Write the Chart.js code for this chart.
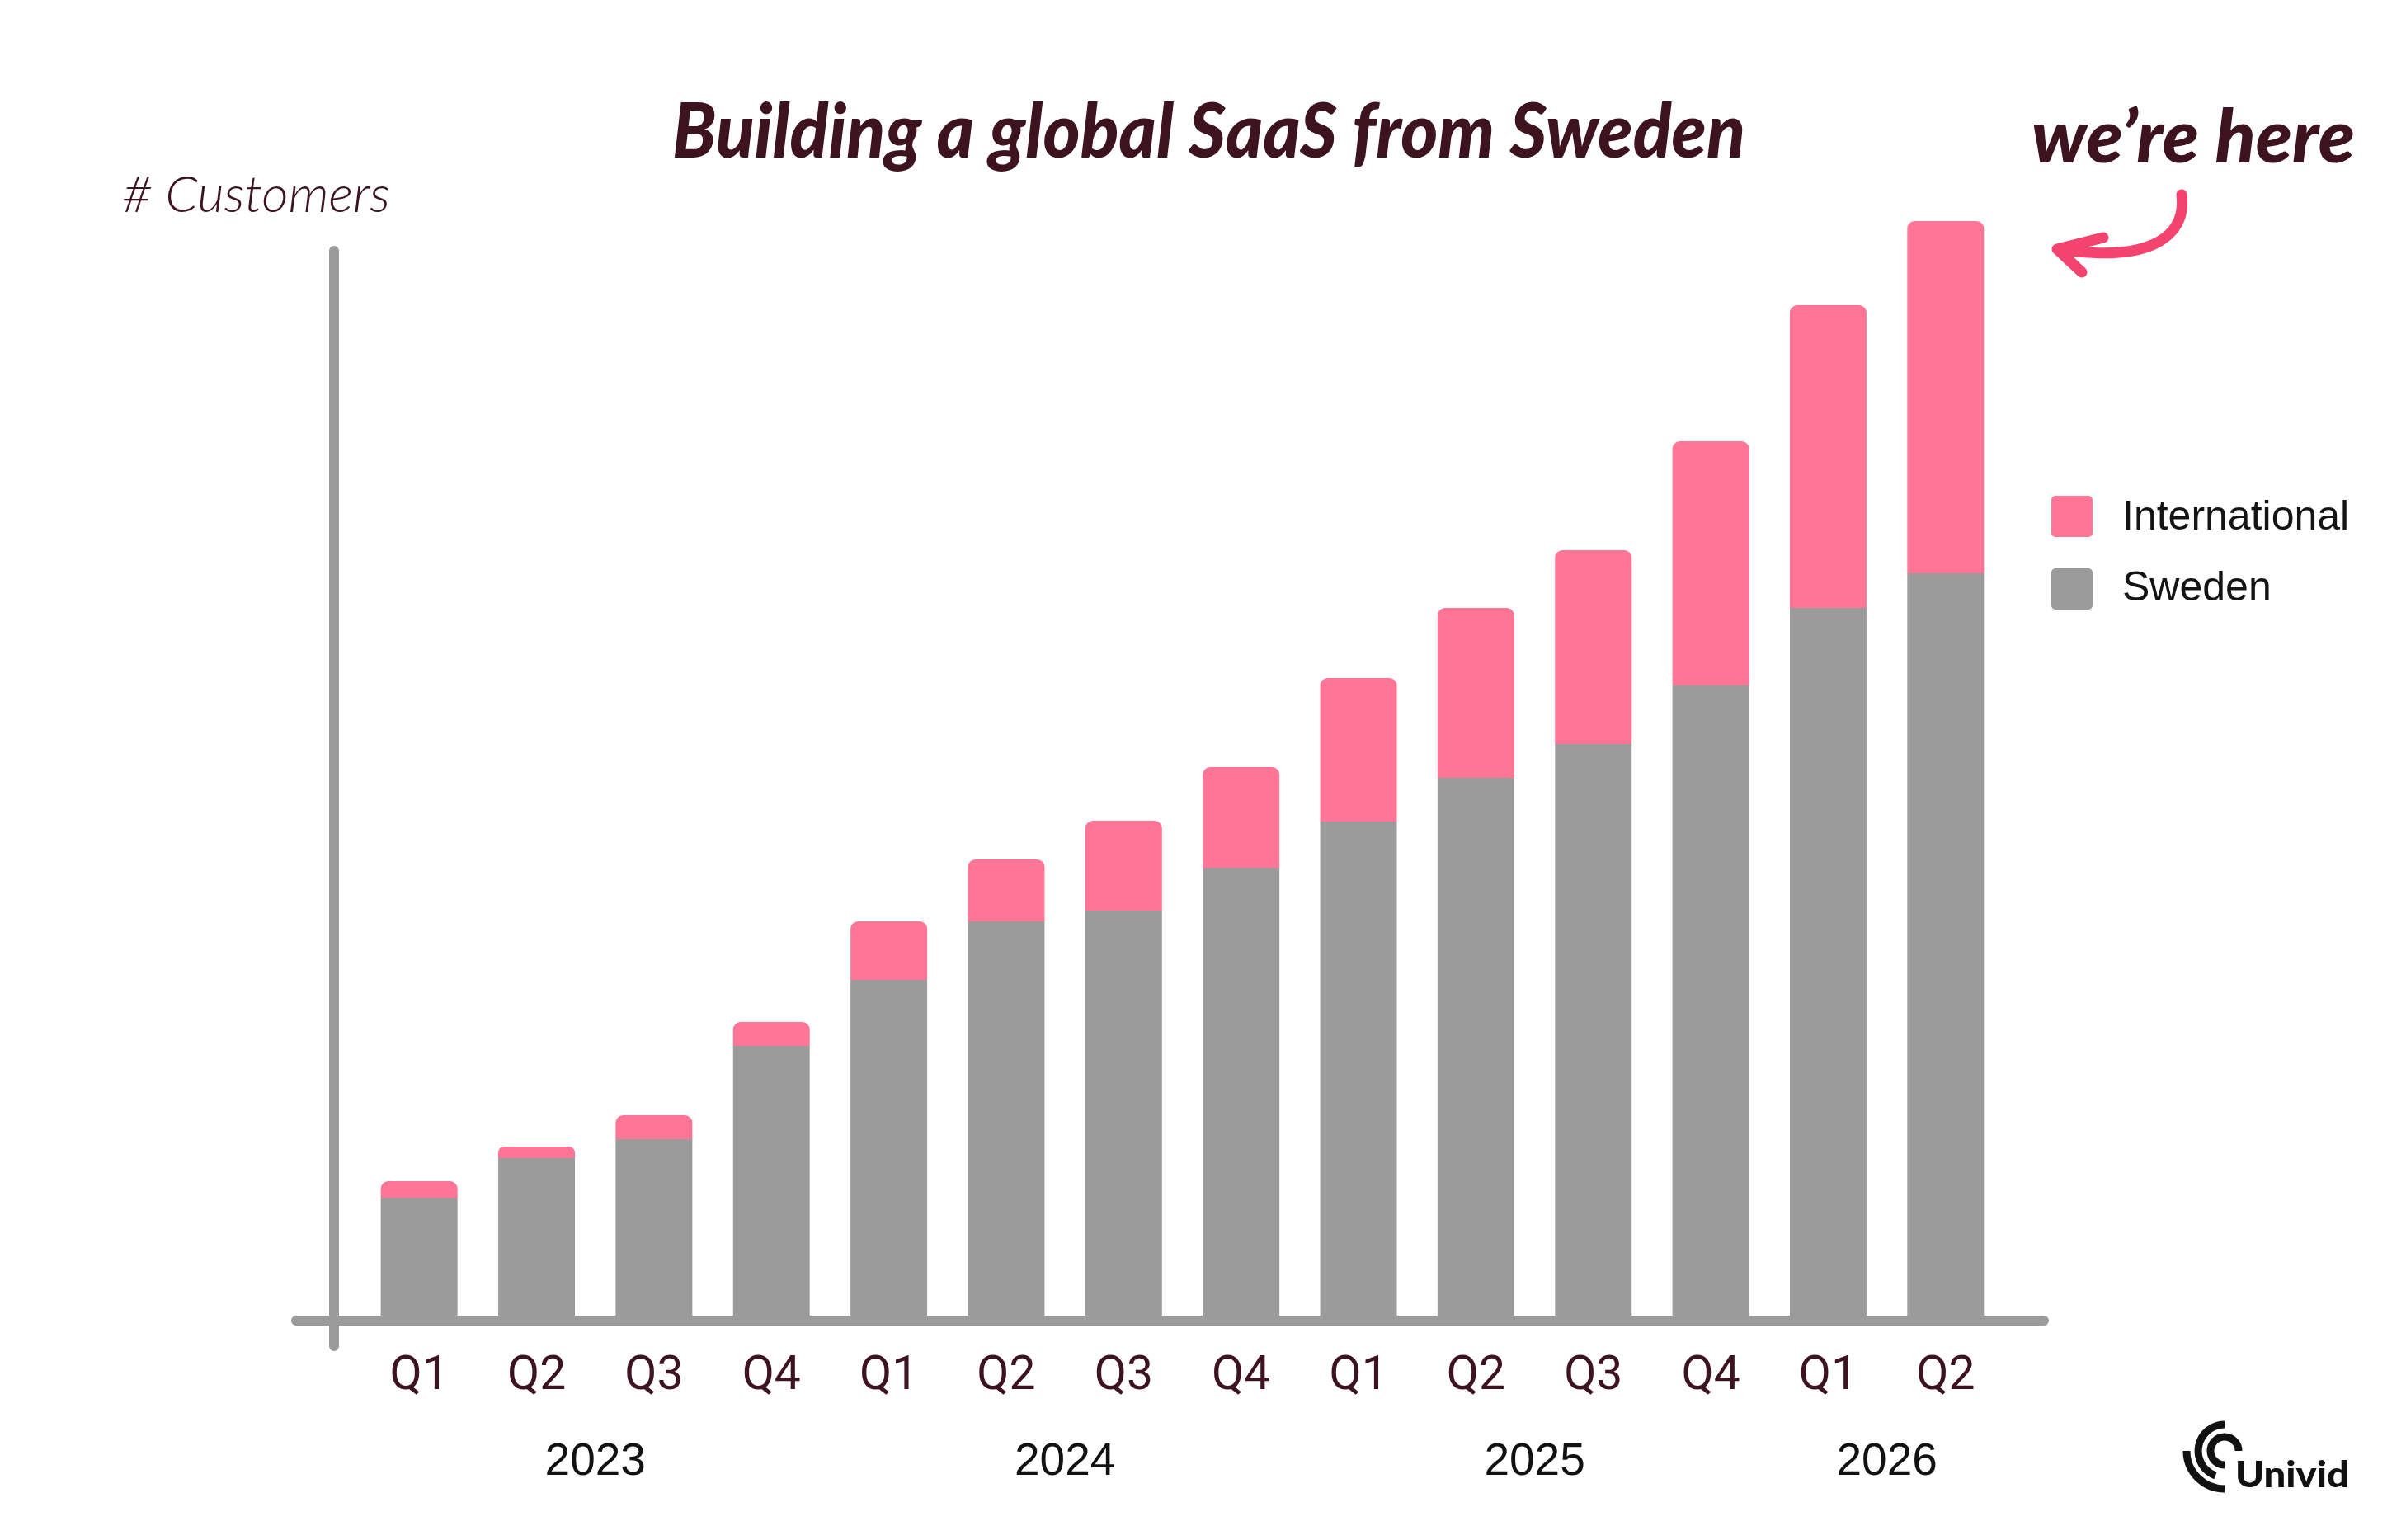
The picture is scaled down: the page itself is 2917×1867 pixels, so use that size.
<!DOCTYPE html>
<html>
<head>
<meta charset="utf-8">
<script src="https://cdn.jsdelivr.net/npm/chart.js@4.4.1/dist/chart.umd.min.js"></script>
<style>
body { margin: 0; background: #fff; }
#wrap { position: relative; width: 2917px; height: 1867px; overflow: hidden; background: #fff; }
#grafica { position: absolute; left: 0; top: 0; }
.txt { position: absolute; white-space: nowrap; line-height: 1; transform-origin: 0 0; }
.lato { font-family: Lato, sans-serif; }
.caja { position: absolute; width: 50px; height: 50px; border-radius: 5px; }
svg { position: absolute; left: 0; top: 0; pointer-events: none; }
</style>
</head>
<body>
<div id="wrap">
  <canvas id="grafica" width="2917" height="1867"></canvas>
  <div id="titulo" class="txt lato" style="font-weight:900;font-style:italic;color:#3d1320">Building a global SaaS from Sweden</div>
  <div id="aqui" class="txt lato" style="font-weight:900;font-style:italic;color:#3d1320">we’re here</div>
  <div id="eje_y" class="txt lato" style="font-weight:300;font-style:italic;color:#3d1320"># Customers</div>
  <div id="leyenda"></div>
  <div id="logo" class="txt lato" style="font-weight:900;color:#111">Univid</div>
  <svg width="2917" height="1867">
    <g fill="none" stroke="#f2446e" stroke-width="13" stroke-linecap="round" stroke-linejoin="round">
      <path d="M2645 236 C2652 292, 2598 318, 2497 302"/>
      <path d="M2550 288 L2494 302 L2524 330"/>
    </g>
    <g fill="none" stroke="#111" stroke-width="9">
      <path d="M2714 1759 A17 17 0 1 0 2697 1776"/>
      <path d="M2697 1727 A32 32 0 0 0 2686 1789"/>
      <path d="M2651 1759 A46 46 0 0 0 2697 1805"/>
    </g>
  </svg>
</div>
<script>
// quarters and the year each one belongs to
const quarters = ['Q1','Q2','Q3','Q4','Q1','Q2','Q3','Q4','Q1','Q2','Q3','Q4','Q1','Q2']
const quarterYears = ['2023','2023','2023','2023','2024','2024','2024','2024','2025','2025','2025','2025','2026','2026']

// customers (no axis values in the original)
const sweden = [144, 192, 215, 328, 408, 479, 492, 544, 600, 653, 694, 765, 859, 901]
const international = [20, 14, 29, 29, 71, 75, 109, 122, 174, 206, 235, 296, 367, 427]

const seriesNames = ['Sweden', 'International']
const seriesColors = ['#9b9b9b', '#ff7596']

function colocar(id, x, baseline, size, ascent, width) {
    var el = document.getElementById(id)
    el.style.fontSize = size + 'px'
    el.style.left = x + 'px'
    el.style.top = (baseline - ascent * size) + 'px'
    if (width) {
        var w = el.getBoundingClientRect().width
        el.style.transform = 'scaleX(' + (width / w) + ')'
    }
}

// axis lines drawn by hand, like the original sketchy axes
const ejes = {
    id: 'ejes',
    afterDatasetsDraw(chart) {
        const c = chart.ctx
        const a = chart.chartArea
        c.save()
        c.strokeStyle = '#9b9b9b'
        c.lineWidth = 12
        c.lineCap = 'round'
        c.beginPath()
        c.moveTo(a.left - 32, a.top + 108)
        c.lineTo(a.left - 32, a.bottom + 36)
        c.moveTo(a.left - 78, a.bottom + 5)
        c.lineTo(a.right + 48, a.bottom + 5)
        c.stroke()
        c.restore()
    }
}

// year labels centred under their quarters
const años = {
    id: 'anos',
    afterDraw(chart) {
        const c = chart.ctx
        const x = chart.scales.x
        var grupos = {}
        for (var i = 0; i < quarterYears.length; i++) {
            var y = quarterYears[i]
            if (!grupos[y]) grupos[y] = []
            grupos[y].push(x.getPixelForValue(i))
        }
        c.save()
        c.fillStyle = '#111'
        c.font = '55px "Liberation Sans", Arial, sans-serif'
        c.textAlign = 'center'
        c.textBaseline = 'alphabetic'
        for (var y in grupos) {
            var p = grupos[y]
            var cx = (p[0] + p[p.length - 1]) / 2
            c.fillText(y, cx, chart.chartArea.bottom + 192)
        }
        c.restore()
    }
}

const ctx = document.getElementById('grafica')
const grafica = new Chart(ctx, {
    type: 'bar',
    data: {
        labels: quarters,
        datasets: [{
            label: seriesNames[0],
            data: sweden,
            backgroundColor: seriesColors[0],
            borderRadius: 0,
            barPercentage: 0.653,
            categoryPercentage: 1
        }, {
            label: seriesNames[1],
            data: international,
            backgroundColor: seriesColors[1],
            borderRadius: { topLeft: 9, topRight: 9, bottomLeft: 0, bottomRight: 0 },
            borderSkipped: false,
            barPercentage: 0.653,
            categoryPercentage: 1
        }]
    },
    options: {
        responsive: false,
        animation: false,
        layout: { padding: { left: 437, right: 487, top: 196, bottom: 0 } },
        plugins: {
            legend: { display: false },
            tooltip: { enabled: false }
        },
        scales: {
            x: {
                stacked: true,
                offset: true,
                grid: { display: false, drawTicks: false },
                border: { display: false },
                ticks: {
                    color: '#3d1320',
                    font: { family: 'Roboto', size: 57, weight: 400 },
                    padding: 40,
                    maxRotation: 0,
                    autoSkip: false
                },
                afterFit: function(s) { s.height = 271 }
            },
            y: {
                stacked: true,
                display: false,
                min: 0,
                max: 1400
            }
        }
    },
    plugins: [ejes, años]
})

// legend from the datasets, International on top
var ley = document.getElementById('leyenda')
var ds = grafica.data.datasets.slice().reverse()
for (var i = 0; i < ds.length; i++) {
    var caja = document.createElement('div')
    caja.className = 'caja'
    caja.style.background = ds[i].backgroundColor
    caja.style.left = '2487px'
    caja.style.top = (601 + i * 88) + 'px'
    ley.appendChild(caja)
    var t = document.createElement('div')
    t.className = 'txt'
    t.id = 'ley' + i
    t.style.fontFamily = '"Liberation Sans", Arial, sans-serif'
    t.style.color = '#141414'
    t.textContent = ds[i].label
    ley.appendChild(t)
    colocar(t.id, 2573, 642 + i * 86, 50, 0.8465)
}

colocar('titulo', 815, 192, 92, 0.887, 1301)
colocar('aqui', 2463, 197, 89, 0.887, 392)
colocar('eje_y', 148, 257, 62, 0.887, 325)
colocar('logo', 2710, 1803, 44, 0.887, 138)
</script>
</body>
</html>
